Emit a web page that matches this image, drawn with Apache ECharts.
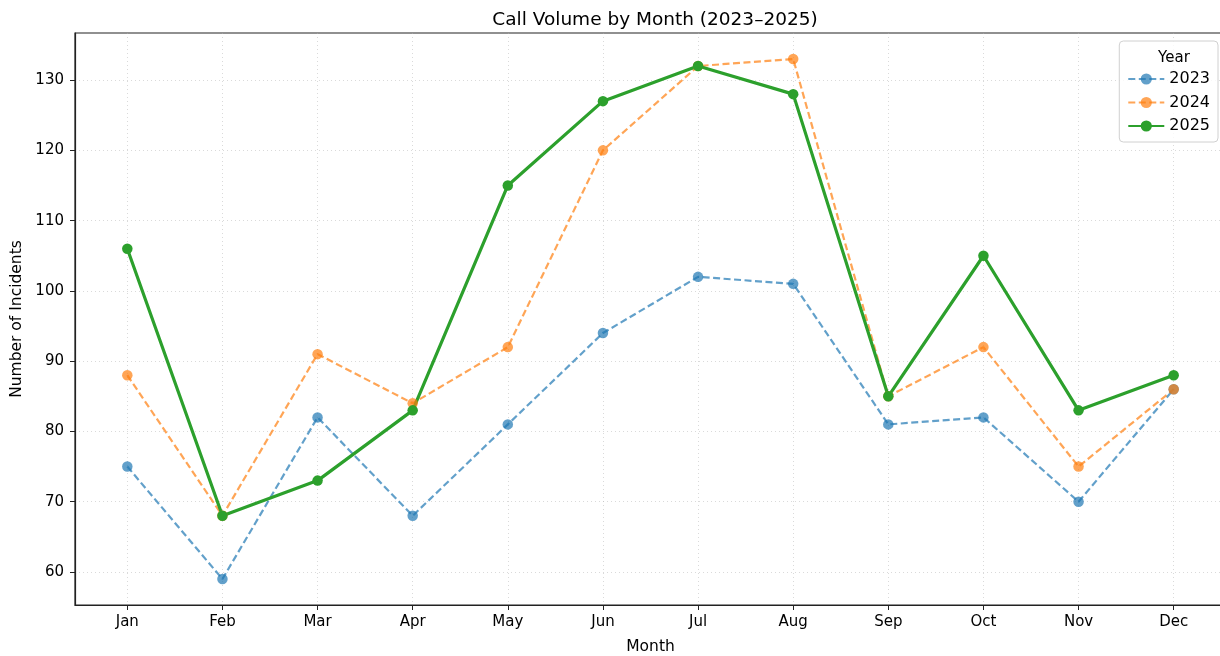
<!DOCTYPE html>
<html>
<head>
<meta charset="utf-8">
<script src="https://cdn.jsdelivr.net/npm/echarts@6/dist/echarts.min.js"></script>
<style>html,body{margin:0;padding:0;background:#fff;}#c{width:1220px;height:656px;}</style>
</head>
<body>
<div id="c"></div>
<script>
const months = ['Jan','Feb','Mar','Apr','May','Jun','Jul','Aug','Sep','Oct','Nov','Dec'];
const years = ['2023','2024','2025'];
const v2023 = [75, 59, 82, 68, 81, 94, 102, 101, 81, 82, 70, 86];
const v2024 = [88, 68, 91, 84, 92, 120, 132, 133, 85, 92, 75, 86];
const v2025 = [106, 68, 73, 83, 115, 127, 132, 128, 85, 105, 83, 88];
const yTicks = [60, 70, 80, 90, 100, 110, 120, 130];

const FONT = 'DejaVu Sans';
const monthIdx = months.map((m, i) => i);
const toPairs = arr => arr.map((v, i) => [i, v]);

const chart = echarts.init(document.getElementById('c'), null, {renderer: 'canvas'});
const gridStyle = {show: true, lineStyle: {color: '#b0b0b0', opacity: 0.6, type: [1, 3], width: 0.8}};

function mk(name, data, color, dashed, width, opacity) {
  return {
    name: name, type: 'line', data: toPairs(data),
    symbol: 'circle', symbolSize: 10.5,
    lineStyle: {color: color, width: width, type: dashed ? [7, 3.5] : 'solid', opacity: opacity},
    itemStyle: {color: color, opacity: opacity},
    emphasis: {disabled: true}, animation: false
  };
}

chart.setOption({
  animation: false,
  textStyle: {fontFamily: FONT},
  title: [
    {text: 'Call Volume by Month (2023–2025)', left: 650, top: 6, textAlign: 'center',
     textStyle: {fontFamily: FONT, fontSize: 18.5, fontWeight: 'normal', color: '#000'}},
    {text: 'Year', left: 1169, top: 46, textAlign: 'center', z: 10,
     textStyle: {fontFamily: FONT, fontSize: 15, fontWeight: 'normal', color: '#000'}}
  ],
  legend: {
    orient: 'vertical', right: 2, top: 41,
    data: years,
    backgroundColor: 'rgba(255,255,255,0.8)', borderColor: '#d0d0d0', borderWidth: 1, borderRadius: 4,
    padding: [30, 8, 8, 8], itemGap: 7.5, itemWidth: 36, itemHeight: 14,
    textStyle: {fontFamily: FONT, fontSize: 16, color: '#000'}
  },
  grid: {left: 75, top: 33, width: 1151, bottom: 51, outerBoundsMode: 'none', containLabel: false,
         show: true, borderColor: '#222', borderWidth: 1.2, backgroundColor: 'transparent'},
  xAxis: {
    type: 'value', min: -0.55, max: 11.55,
    name: 'Month', nameLocation: 'middle', nameGap: 34,
    nameTextStyle: {fontFamily: FONT, fontSize: 15.5, color: '#000'},
    axisLine: {show: true, onZero: false, lineStyle: {color: '#222', width: 1.2}},
    axisTick: {show: true, length: 5, customValues: monthIdx, lineStyle: {color: '#222'}},
    axisLabel: {customValues: monthIdx, formatter: v => months[Math.round(v)], fontFamily: FONT, fontSize: 15, color: '#000', margin: 10},
    splitLine: gridStyle
  },
  yAxis: {
    type: 'value', min: 55.3, max: 136.7,
    name: 'Number of Incidents', nameLocation: 'middle', nameGap: 48,
    nameTextStyle: {fontFamily: FONT, fontSize: 15.5, color: '#000'},
    axisLine: {show: true, onZero: false, lineStyle: {color: '#222', width: 1.2}},
    axisTick: {show: true, length: 5, customValues: yTicks, lineStyle: {color: '#222'}},
    axisLabel: {customValues: yTicks, fontFamily: FONT, fontSize: 15, color: '#000', margin: 11},
    splitLine: gridStyle
  },
  series: [
    mk('2023', v2023, '#1f77b4', true, 2.2, 0.7),
    mk('2024', v2024, '#ff7f0e', true, 2.2, 0.7),
    mk('2025', v2025, '#2ca02c', false, 3.2, 1)
  ]
});
</script>
</body>
</html>
